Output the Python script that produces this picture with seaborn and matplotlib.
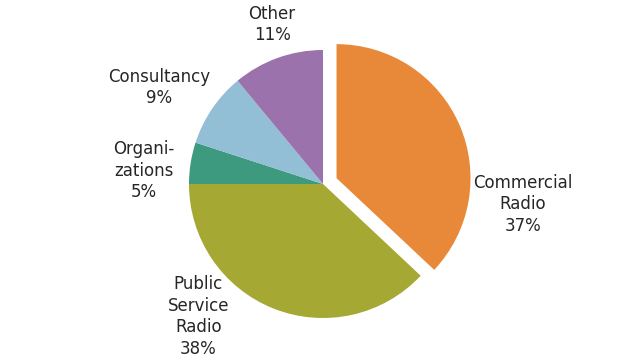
import matplotlib
matplotlib.use("Agg")
import matplotlib.pyplot as plt
import seaborn as sns

categories = ["Commercial\nRadio", "Public\nService\nRadio", "Organi-\nzations", "Consultancy", "Other"]
shares = [37, 38, 5, 9, 11]
colors = ["#E8893A", "#A5A832", "#3E9A7E", "#92BED6", "#9B72AB"]

sns.set_theme(style="white")
plt.rcParams["font.family"] = ["DejaVu Sans"]

fig = plt.figure(figsize=(6.4, 3.6), dpi=100)
ax = fig.add_axes([0, 0, 1, 1])

explode = [0.11, 0, 0, 0, 0]
ax.pie(shares, colors=colors, startangle=90, counterclock=False,
       explode=explode, radius=1.0, wedgeprops=dict(linewidth=0))

# label anchor points (in units of the pie radius)
label_pos = [(1.49, -0.15), (-0.93, -0.99), (-1.34, 0.10), (-1.22, 0.72), (-0.38, 1.19)]
for cat, val, (lx, ly) in zip(categories, shares, label_pos):
    ax.text(lx, ly, f"{cat}\n{val}%", ha="center", va="center",
            fontsize=12, color="#262626", linespacing=1.25)

ax.set_xlim(-323 / 134, (640 - 323) / 134)
ax.set_ylim(-(360 - 184) / 134, 184 / 134)
ax.set_aspect("equal", adjustable="box")
ax.axis("off")

fig.savefig("out.png", dpi=100, facecolor="white")
